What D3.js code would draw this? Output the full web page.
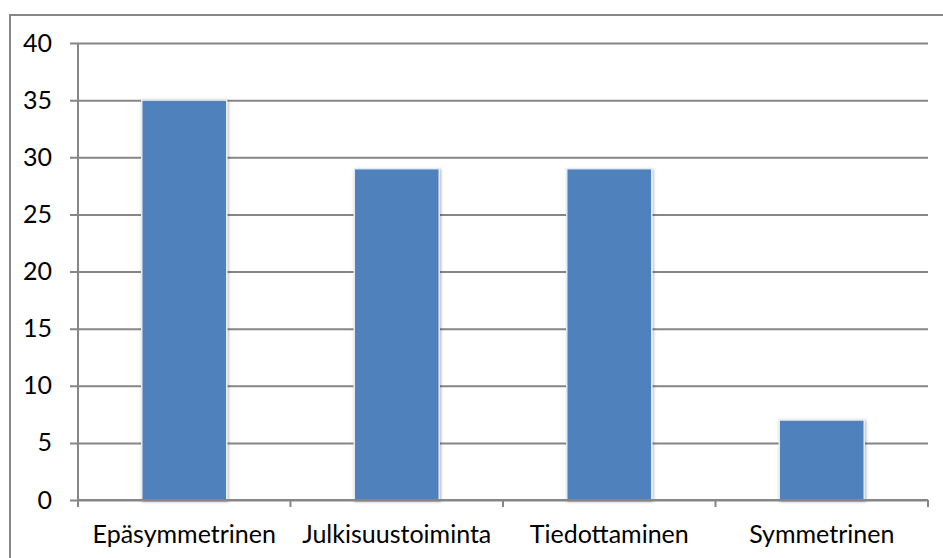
<!DOCTYPE html>
<html>
<head>
<meta charset="utf-8">
<script src="https://cdn.jsdelivr.net/npm/d3@7"></script>
<style>
  html, body { margin: 0; padding: 0; background: #fff; }
  svg { display: block; }
  text { font-family: Lato, "Open Sans", sans-serif; fill: #000; }
</style>
</head>
<body>
<svg id="chart" width="943" height="558"></svg>
<script>
// Chart data
const categories = ["Epäsymmetrinen", "Julkisuustoiminta", "Tiedottaminen", "Symmetrinen"];
const values = [35, 29, 29, 7];
const yTicks = [0, 5, 10, 15, 20, 25, 30, 35, 40];

const svg = d3.select("#chart");
const W = 943, H = 558;
const plot = { left: 78, right: 928, top: 43, bottom: 500 };
const gridColor = "#868686";
const labelFont = "Lato, 'Open Sans', sans-serif";
const labelSize = 25;

// Outer chart frame
svg.append("rect")
  .attr("x", 10).attr("y", 15)
  .attr("width", W).attr("height", H)
  .attr("fill", "none")
  .attr("stroke", gridColor)
  .attr("stroke-width", 2);

const x = d3.scaleBand()
  .domain(categories)
  .range([plot.left, plot.right])
  .paddingInner(0.6)
  .paddingOuter(0.3);

const y = d3.scaleLinear()
  .domain([0, 40])
  .range([plot.bottom, plot.top]);

// Soft shadow under bars
const defs = svg.append("defs");
const f = defs.append("filter").attr("id", "shadow")
  .attr("x", "-20%").attr("y", "-20%").attr("width", "140%").attr("height", "140%");
f.append("feDropShadow")
  .attr("dx", 1).attr("dy", 1).attr("stdDeviation", 1.5)
  .attr("flood-color", "#000").attr("flood-opacity", 0.3);

// Horizontal gridlines with left tick marks
const yAxis = d3.axisLeft(y)
  .tickValues(yTicks)
  .tickSize(-(plot.right - plot.left))
  .tickSizeOuter(0)
  .tickPadding(26);

const gy = svg.append("g")
  .attr("transform", `translate(${plot.left},0)`)
  .call(yAxis);
gy.select(".domain").remove();
gy.selectAll(".tick line")
  .attr("x1", -8)
  .attr("stroke", gridColor)
  .attr("stroke-width", 2);
gy.selectAll(".tick text")
  .attr("font-size", labelSize)
  .attr("font-family", labelFont)
  .attr("fill", "#000");

// Vertical axis line
svg.append("line")
  .attr("x1", plot.left).attr("x2", plot.left)
  .attr("y1", plot.top).attr("y2", plot.bottom + 7)
  .attr("stroke", gridColor).attr("stroke-width", 2);

// Bars
svg.append("g").selectAll("rect")
  .data(values)
  .join("rect")
  .attr("x", (d, i) => x(categories[i]))
  .attr("y", d => y(d))
  .attr("width", x.bandwidth())
  .attr("height", d => y(0) - y(d))
  .attr("fill", "#4F81BD")
  .attr("stroke", "#E4ECF5")
  .attr("stroke-width", 1.5)
  .attr("filter", "url(#shadow)");

// Category axis
const xAxis = d3.axisBottom(x)
  .tickSize(0)
  .tickPadding(25);
const gx = svg.append("g")
  .attr("transform", `translate(0,${plot.bottom})`)
  .call(xAxis);
gx.select(".domain")
  .attr("stroke", gridColor).attr("stroke-width", 2)
  .attr("d", `M${plot.left},0H${plot.right}`);
gx.selectAll(".tick text")
  .attr("font-size", labelSize)
  .attr("font-family", labelFont)
  .attr("fill", "#000");

// Tick marks on the category boundaries
const boundaries = d3.range(categories.length + 1).map(i => plot.left + i * (plot.right - plot.left) / categories.length);
gx.selectAll(".boundary")
  .data(boundaries)
  .join("line")
  .attr("class", "boundary")
  .attr("x1", d => d).attr("x2", d => d)
  .attr("y1", 0).attr("y2", 7)
  .attr("stroke", gridColor).attr("stroke-width", 2);
</script>
</body>
</html>
